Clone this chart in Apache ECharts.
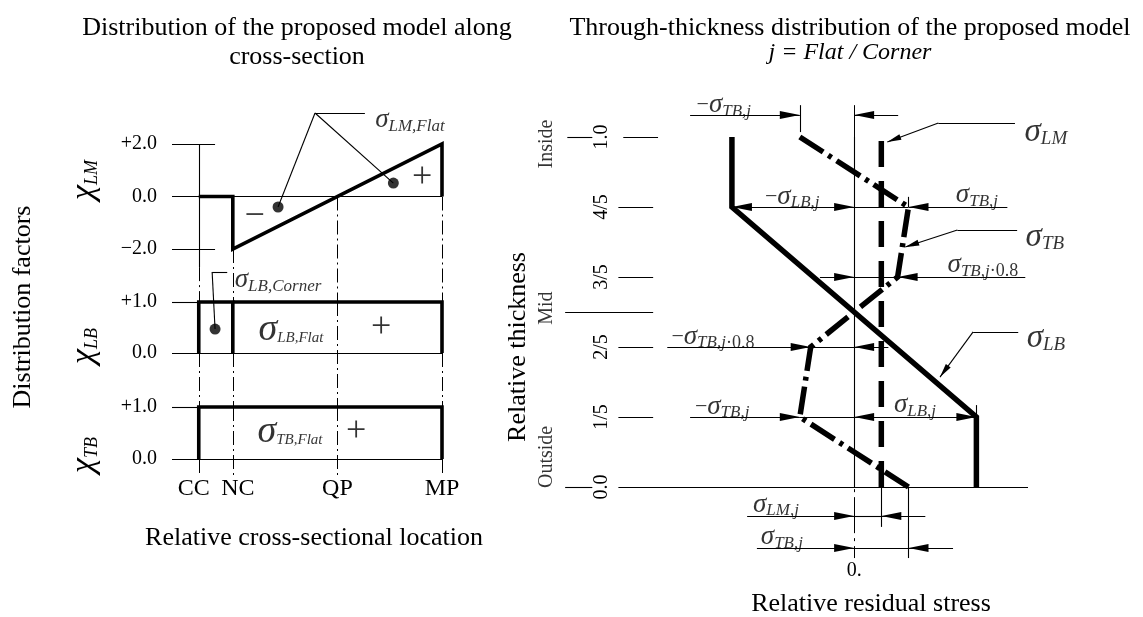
<!DOCTYPE html>
<html>
<head>
<meta charset="utf-8">
<script src="https://cdn.jsdelivr.net/npm/echarts@6/dist/echarts.min.js"></script>
<style>
  html, body { margin: 0; padding: 0; background: #fff; }
  #chart { width: 1143px; height: 617px; }
</style>
</head>
<body>
<div id="chart"></div>
<script>
// ---------- cross-sectional distribution factors ----------
const locations = ['CC', 'NC', 'QP', 'MP'];
const locationX = [0, 0.14, 0.57, 1];
// chi_LM: zero over the corner, jumps to -2 at NC, rises linearly to +2 at MP
const chiLM = [[0, 0], [0.14, 0], [0.14, -2], [1, 2], [1, 0]];
const chiLBCorner = [[0, 0], [0, 1], [0.14, 1], [0.14, 0]];
const chiLBFlat = [[0.14, 1], [1, 1], [1, 0]];
const chiTB = [[0, 0], [0, 1], [1, 1], [1, 0]];

// ---------- through-thickness distribution (stress in units of sigma_TB,j) ----------
const thickness = [0, 0.2, 0.4, 0.6, 0.8, 1.0];
const thicknessLabels = ['0.0', '1/5', '2/5', '3/5', '4/5', '1.0'];
const sigmaTB = [1, -1, -0.8, 0.8, 1, -1];
const sigmaLB = [2.25, 2.25, 0.75, -0.75, -2.25, -2.25];
const sigmaLM = [0.5, 0.5, 0.5, 0.5, 0.5, 0.5];
const sigmaTBj = 1;
const sigmaLBj = 2.25;
const sigmaLMj = 0.5;

const FONT = "'Liberation Serif', 'Times New Roman', serif";
const INK = '#000';
// slender filled arrow heads; the tip sits at the centre of a square symbol box
const ARROW = 'path://M20,20 L24,40 L16,40 Z M0,0 M40,40';
const ARROW_SMALL = 'path://M14,14 L17,28 L11,28 Z M0,0 M28,28';
const DASH_DOT_THIN = [14, 4, 2, 4];

const RICH = {
  s:  { fontFamily: FONT, fontStyle: 'italic', fontSize: 27, color: INK },
  s2: { fontFamily: FONT, fontStyle: 'italic', fontSize: 33, color: INK },
  s3: { fontFamily: FONT, fontStyle: 'italic', fontSize: 38, color: INK },
  d:  { fontFamily: FONT, fontStyle: 'italic', fontSize: 17, color: INK, padding: [12, 0, 0, 0] },
  d2: { fontFamily: FONT, fontStyle: 'italic', fontSize: 19, color: INK, padding: [14, 0, 0, 0] },
  d3: { fontFamily: FONT, fontStyle: 'italic', fontSize: 15, color: INK, padding: [16, 0, 0, 0] },
  m:  { fontFamily: FONT, fontSize: 22, color: INK },
  n:  { fontFamily: FONT, fontSize: 18, color: INK, padding: [12, 0, 0, 0] },
  p:  { fontFamily: FONT, fontSize: 36, color: INK }
};

// straight construction / dimension segments in data coordinates
function segs(grid, list, extra) {
  const base = {
    type: 'lines', coordinateSystem: 'cartesian2d', xAxisIndex: grid, yAxisIndex: grid,
    clip: false, silent: true, animation: false, z: 3,
    symbol: 'none', symbolSize: 0,
    lineStyle: { color: INK, width: 1.1, opacity: 1, curveness: 0, type: 'solid', cap: 'butt' },
    data: list.map(c => ({ coords: c }))
  };
  return Object.assign(base, extra || {});
}
function dashed(grid, list, pattern, width) {
  return segs(grid, list, { lineStyle: { color: INK, width: width || 1, opacity: 1, curveness: 0, type: pattern, cap: 'butt' } });
}
function arrows(grid, list, both, head, size) {
  const h = head || ARROW;
  return segs(grid, list, {
    symbol: both ? [h, h] : ['none', h],
    symbolSize: size || 40
  });
}
function curve(grid, data, width, type) {
  return {
    type: 'line', xAxisIndex: grid, yAxisIndex: grid, data, symbol: 'none',
    clip: false, silent: true, animation: false, z: 5,
    lineStyle: { color: INK, width, type: type || 'solid', cap: 'butt', join: 'miter' }
  };
}
function texts(grid, items, extraLabel) {
  return {
    type: 'scatter', xAxisIndex: grid, yAxisIndex: grid, clip: false, silent: true,
    animation: false, symbolSize: 0, z: 6,
    itemStyle: { color: 'rgba(0,0,0,0)' },
    data: items.map(it => ({ name: it[2], value: [it[0], it[1]] })),
    label: Object.assign({
      show: true, position: 'inside', color: INK, fontFamily: FONT, fontSize: 20,
      formatter: p => p.name, rich: RICH
    }, extraLabel || {})
  };
}
function dots(grid, pts) {
  return {
    type: 'scatter', xAxisIndex: grid, yAxisIndex: grid, clip: false, silent: true,
    animation: false, symbol: 'circle', symbolSize: 11, z: 6,
    itemStyle: { color: INK }, data: pts
  };
}

const hiddenX = { type: 'value', min: -0.11, max: 1, show: false };
function chiY(grid, min, max, interval) {
  return {
    type: 'value', gridIndex: grid, min, max, interval,
    axisLine: { show: false }, axisTick: { show: false }, splitLine: { show: false },
    axisLabel: {
      margin: 15, color: INK, fontFamily: FONT, fontSize: 20,
      formatter: v => v > 0 ? '+' + v.toFixed(1) : (v < 0 ? '\u2212' + Math.abs(v).toFixed(1) : '0.0')
    }
  };
}
function centred(x, y, text, size, extra) {
  return Object.assign({
    type: 'text', x, y, silent: true,
    style: Object.assign({
      text, fontFamily: FONT, fontSize: size, fill: INK,
      align: 'center', verticalAlign: 'middle', textAlign: 'center', textVerticalAlign: 'middle'
    }, (extra && extra.style) || {})
  }, extra && extra.rotation ? { rotation: extra.rotation } : {});
}

const chart = echarts.init(document.getElementById('chart'), null, { renderer: 'canvas' });

const thicknessTicks = [0.2, 0.4, 0.6, 0.8].map(t => [[-4.34, t], [-3.70, t]]);

chart.setOption({
  backgroundColor: '#fff',
  animation: false,
  grid: [
    { left: 172, right: 701, top: 144, height: 105 },
    { left: 172, right: 701, top: 302, height: 51 },
    { left: 172, right: 701, top: 407, height: 52 },
    { left: 645, right: 115, top: 137, height: 350 }
  ],
  xAxis: [
    Object.assign({ gridIndex: 0 }, hiddenX),
    Object.assign({ gridIndex: 1 }, hiddenX),
    {
      type: 'value', gridIndex: 2, min: -0.11, max: 1,
      axisLine: { show: false }, axisTick: { show: false }, splitLine: { show: false },
      axisLabel: {
        customValues: locationX, margin: 18, color: INK, fontFamily: FONT, fontSize: 24,
        formatter: v => {
          const i = locationX.findIndex(x => Math.abs(x - v) < 1e-6);
          const name = locations[i];
          if (name === 'CC') return '{l|CC}';
          if (name === 'NC') return '{r|NC}';
          return name;
        },
        rich: {
          l: { fontFamily: FONT, fontSize: 24, color: INK, padding: [0, 10, 0, 0] },
          r: { fontFamily: FONT, fontSize: 24, color: INK, padding: [0, 0, 0, 10] }
        }
      }
    },
    {
      type: 'value', gridIndex: 3, min: -3.85, max: 3.2,
      axisLine: { show: false }, axisTick: { show: false }, splitLine: { show: false },
      axisLabel: {
        customValues: [0], margin: 74, color: INK, fontFamily: FONT, fontSize: 20,
        formatter: () => '0.'
      }
    }
  ],
  yAxis: [
    chiY(0, -2, 2, 2),
    chiY(1, 0, 1, 1),
    chiY(2, 0, 1, 1),
    {
      type: 'value', gridIndex: 3, min: 0, max: 1,
      axisLine: { show: true, lineStyle: { color: INK, width: 1.1 } },
      axisTick: { show: false }, splitLine: { show: false },
      axisLabel: {
        customValues: thickness, rotate: 90, margin: 33, color: INK, fontFamily: FONT, fontSize: 20,
        formatter: v => thicknessLabels[thickness.findIndex(t => Math.abs(t - v) < 1e-6)]
      }
    }
  ],
  graphic: [
    centred(297, 28, 'Distribution of the proposed model along', 26),
    centred(297, 57, 'cross-section', 26),
    centred(850, 28, 'Through-thickness distribution of the proposed model', 26),
    centred(850, 53, 'j = Flat / Corner', 24, { style: { fontStyle: 'italic' } }),
    centred(23, 307, 'Distribution factors', 26, { rotation: Math.PI / 2 }),
    centred(314, 538, 'Relative cross-sectional location', 26),
    centred(518, 347, 'Relative thickness', 26, { rotation: Math.PI / 2 }),
    centred(871, 604, 'Relative residual stress', 26),
    ...[['LM', 180], ['LB', 346], ['TB', 455]].map(([sub, y]) => ({
      type: 'text', x: 84, y, rotation: Math.PI / 2, silent: true,
      style: {
        text: '{c|\u03c7}{b|' + sub + '}', align: 'center', verticalAlign: 'middle',
        textAlign: 'center', textVerticalAlign: 'middle',
        rich: {
          c: { fontFamily: FONT, fontStyle: 'italic', fontSize: 34, fill: INK },
          b: { fontFamily: FONT, fontStyle: 'italic', fontSize: 18, fill: INK, padding: [16, 0, 0, 0] }
        }
      }
    }))
  ],
  series: [
    // ---- chi_LM panel ----
    segs(0, [
      [[-0.11, 2], [0.067, 2]], [[-0.11, -2], [0.067, -2]], [[-0.11, 0], [1, 0]],
      [[0, 2], [0, -2.69]],
      [[0.478, 3.18], [0.683, 3.18]], [[0.478, 3.18], [0.326, -0.40]], [[0.478, 3.18], [0.80, 0.51]]
    ]),
    dashed(0, [
      [[0, -2.69], [0, -4.02]], [[0.14, -2], [0.14, -4.02]],
      [[0.57, 0], [0.57, -4.02]], [[1, 0], [1, -4.02]]
    ], DASH_DOT_THIN),
    curve(0, chiLM, 3.6),
    dots(0, [[0.326, -0.40], [0.80, 0.51]]),
    texts(0, [
      [0.868, 2.91, '{s|\u03c3}{d|LM,Flat}'],
      [0.23, -0.78, '{p|\u2212}'],
      [0.918, 0.74, '{p|+}']
    ]),
    // ---- chi_LB panel ----
    segs(1, [
      [[-0.11, 1], [0, 1]], [[-0.11, 0], [1, 0]],
      [[0.055, 1.59], [0.117, 1.59]], [[0.055, 1.59], [0.067, 0.47]]
    ]),
    dashed(1, [
      [[0.57, 1], [0.57, -1.06]], [[0, 0], [0, -1.06]], [[0.14, 0], [0.14, -1.06]], [[1, 0], [1, -1.06]]
    ], DASH_DOT_THIN),
    curve(1, chiLBCorner, 3.6),
    curve(1, chiLBFlat, 3.6),
    dots(1, [[0.067, 0.47]]),
    texts(1, [
      [0.326, 1.43, '{s|\u03c3}{d|LB,Corner}'],
      [0.379, 0.45, '{s3|\u03c3}{d3|LB,Flat}'],
      [0.75, 0.49, '{p|+}']
    ]),
    // ---- chi_TB panel ----
    segs(2, [[[-0.11, 1], [0, 1]], [[-0.11, 0], [1, 0]]]),
    dashed(2, [
      [[0.14, 1], [0.14, -0.33]], [[0.57, 1], [0.57, -0.33]], [[0, 0], [0, -0.33]], [[1, 0], [1, -0.33]]
    ], DASH_DOT_THIN),
    curve(2, chiTB, 3.6),
    texts(2, [
      [0.375, 0.52, '{s3|\u03c3}{d3|TB,Flat}'],
      [0.647, 0.52, '{p|+}']
    ]),
    // ---- through-thickness panel: frame, ticks and dimension lines ----
    segs(3, thicknessTicks.concat([
      [[-4.25, 1], [-3.61, 1]], [[-5.28, 1], [-4.82, 1]],
      [[-5.32, 0.5], [-3.70, 0.5]],
      [[-5.32, 0], [-4.82, 0]], [[-4.34, 0], [3.2, 0]],
      [[-sigmaTBj, 1.091], [-sigmaTBj, 1.014]],
      [[0, 0.8], [sigmaTBj, 0.8]], [[sigmaTBj, 0.8], [sigmaTBj, 0.829]],
      [[0, 0.6], [0.8 * sigmaTBj, 0.6]],
      [[-0.8 * sigmaTBj, 0.4], [0, 0.4]],
      [[-sigmaTBj, 0.2], [0, 0.2]], [[sigmaLBj, 0.2], [sigmaLBj, 0.234]],
      [[0, -0.083], [sigmaLMj, -0.083]], [[0, -0.174], [sigmaTBj, -0.174]],
      [[sigmaLMj, 0], [sigmaLMj, -0.114]], [[sigmaTBj, 0], [sigmaTBj, -0.203]],
      [[1.55, 1.04], [2.96, 1.04]], [[1.90, 0.734], [3.0, 0.734]], [[2.19, 0.443], [3.02, 0.443]]
    ])),
    dashed(3, [[[0, 1.091], [0, -0.203]]], [36, 5, 3, 5]),
    arrows(3, [
      [[-3.02, 1.063], [-sigmaTBj, 1.063]], [[0.81, 1.063], [0, 1.063]],
      [[2.82, 0.8], [sigmaTBj, 0.8]],
      [[-0.63, 0.6], [0, 0.6]], [[3.15, 0.6], [0.8 * sigmaTBj, 0.6]],
      [[-3.44, 0.4], [-0.8 * sigmaTBj, 0.4]], [[0.63, 0.4], [0, 0.4]],
      [[-3.02, 0.2], [-sigmaTBj, 0.2]],
      [[-1.97, -0.083], [0, -0.083]], [[1.31, -0.083], [sigmaLMj, -0.083]],
      [[-1.79, -0.174], [0, -0.174]], [[1.82, -0.174], [sigmaTBj, -0.174]]
    ], false),
    arrows(3, [
      [[-sigmaLBj, 0.8], [0, 0.8]],
      [[0, 0.2], [sigmaLBj, 0.2]]
    ], true),
    arrows(3, [
      [[1.55, 1.04], [0.61, 0.986]],
      [[1.90, 0.734], [0.94, 0.686]],
      [[2.19, 0.443], [1.58, 0.314]]
    ], false, ARROW_SMALL, 28),
    // ---- stress profiles ----
    curve(3, thickness.map((t, i) => [sigmaLB[i], t]), 5.5),
    curve(3, thickness.map((t, i) => [sigmaTB[i], t]), 5.5, [28, 6, 4, 6]),
    curve(3, thickness.map((t, i) => [sigmaLM[i], t]), 5.5, [26, 14]),
    texts(3, [
      [-2.40, 1.091, '{m|\u2212}{s|\u03c3}{d|TB,j}'],
      [-1.14, 0.829, '{m|\u2212}{s|\u03c3}{d|LB,j}'],
      [2.26, 0.834, '{s|\u03c3}{d|TB,j}'],
      [2.37, 0.634, '{s|\u03c3}{d|TB,j}{n|\u00b70.8}'],
      [-2.60, 0.429, '{m|\u2212}{s|\u03c3}{d|TB,j}{n|\u00b70.8}'],
      [-2.43, 0.229, '{m|\u2212}{s|\u03c3}{d|TB,j}'],
      [1.12, 0.234, '{s|\u03c3}{d|LB,j}'],
      [-1.44, -0.051, '{s|\u03c3}{d|LM,j}'],
      [-1.33, -0.143, '{s|\u03c3}{d|TB,j}'],
      [3.53, 1.014, '{s2|\u03c3}{d2|LM}'],
      [3.51, 0.714, '{s2|\u03c3}{d2|TB}'],
      [3.53, 0.426, '{s2|\u03c3}{d2|LB}']
    ]),
    texts(3, [
      [-5.65, 0.98, 'Inside'],
      [-5.65, 0.511, 'Mid'],
      [-5.65, 0.086, 'Outside']
    ], { rotate: 90, fontSize: 20 })
  ]
});
</script>
</body>
</html>
